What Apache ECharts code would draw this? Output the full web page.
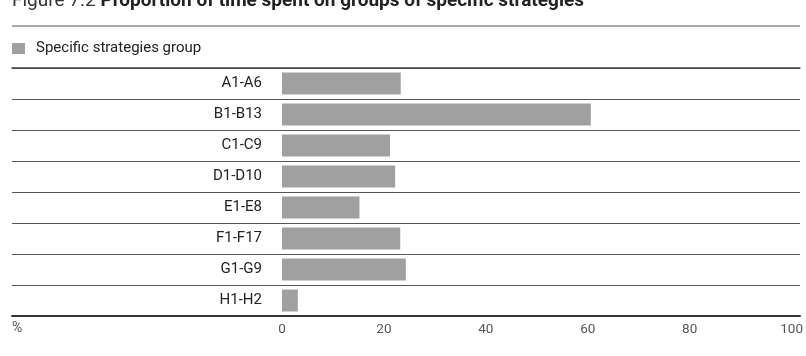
<!DOCTYPE html>
<html>
<head>
<meta charset="utf-8">
<script src="https://cdn.jsdelivr.net/npm/echarts@6/dist/echarts.min.js"></script>
<style>html,body{margin:0;padding:0;background:#fff}#c{width:806px;height:356px}</style>
</head>
<body>
<div id="c"></div>
<script>
var categories = ['A1-A6','B1-B13','C1-C9','D1-D10','E1-E8','F1-F17','G1-G9','H1-H2'];
var values = [23.3, 60.6, 21.2, 22.2, 15.2, 23.2, 24.3, 3.1];
var seriesName = 'Specific strategies group';
var xTicks = [0, 20, 40, 60, 80, 100];
var titleLead = 'Figure 7.2 ';
var titleMain = 'Proportion of time spent on groups of specific strategies';
var unitLabel = '%';

var FONT = 'Roboto, "Noto Sans", sans-serif';
var chart = echarts.init(document.getElementById('c'), null, {renderer: 'canvas'});
chart.setOption({
  animation: false,
  textStyle: {fontFamily: FONT},
  title: {
    left: 12, top: -8, padding: 0,
    text: '{n|' + titleLead + '}{b|' + titleMain + '}',
    textStyle: {
      rich: {
        n: {fontSize: 19, color: '#333', fontFamily: FONT, fontWeight: 'normal'},
        b: {fontSize: 19, color: '#222', fontFamily: FONT, fontWeight: 'bold'}
      }
    }
  },
  legend: {
    left: 12, top: 41, padding: 0,
    icon: 'rect', itemWidth: 13, itemHeight: 11,
    textStyle: {fontSize: 15, color: '#222', fontFamily: FONT, padding: [0, 0, 0, 6]},
    data: [seriesName]
  },
  graphic: [
    {type: 'line', shape: {x1: 12, y1: 26, x2: 800, y2: 26}, style: {stroke: '#555', lineWidth: 1.2}},
    {type: 'text', left: 12, top: 321, style: {text: unitLabel, fontSize: 14, fill: '#555', fontFamily: FONT}}
  ],
  grid: [
    {left: 282, right: 14, top: 68, bottom: 40},
    {left: 12, right: 6, top: 68, bottom: 40}
  ],
  xAxis: [
    {
      gridIndex: 0, type: 'value', min: xTicks[0], max: xTicks[xTicks.length - 1], interval: 20,
      axisLine: {show: false}, axisTick: {show: false}, splitLine: {show: false},
      axisLabel: {color: '#555', fontSize: 13.5, margin: 7, fontFamily: FONT}
    },
    {
      gridIndex: 1, type: 'value', position: 'bottom', min: 0, max: 1,
      axisLine: {show: true, lineStyle: {color: '#333', width: 2}},
      axisTick: {show: false}, axisLabel: {show: false}, splitLine: {show: false}
    },
    {
      gridIndex: 1, type: 'value', position: 'top', min: 0, max: 1,
      axisLine: {show: true, lineStyle: {color: '#444', width: 1.5}},
      axisTick: {show: false}, axisLabel: {show: false}, splitLine: {show: false}
    }
  ],
  yAxis: [
    {
      gridIndex: 0, type: 'category', data: categories, inverse: true,
      axisLine: {show: false}, axisTick: {show: false}, splitLine: {show: false},
      axisLabel: {color: '#222', fontSize: 15, margin: 20, fontFamily: FONT}
    },
    {
      gridIndex: 1, type: 'category', data: categories, inverse: true,
      axisLine: {show: false}, axisTick: {show: false}, axisLabel: {show: false},
      splitLine: {show: true, lineStyle: {color: '#555', width: 1}}
    }
  ],
  series: [
    {
      name: seriesName, type: 'bar', xAxisIndex: 0, yAxisIndex: 0,
      data: values, barWidth: 22,
      itemStyle: {color: '#a0a0a0'}
    }
  ]
});
</script>
</body>
</html>
